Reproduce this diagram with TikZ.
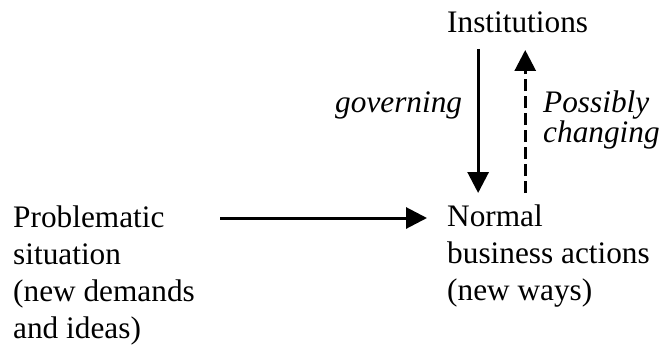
\documentclass[tikz,border=0pt]{standalone}
\usepackage{fontspec}
\setmainfont{Liberation Serif}
\usetikzlibrary{arrows.meta,calc}

\tikzset{
  body/.style={inner sep=0pt, anchor=base west, align=left,
    font=\fontsize{31.3}{37}\selectfont},
  lbl/.style={inner sep=0pt, anchor=base west, align=left,
    font=\fontsize{31.3}{30}\selectfont\itshape},
  arr/.style={line width=3pt, -{Triangle[length=21pt,width=21pt]}},
  darr/.style={arr, dash pattern=on 12pt off 5pt},
}

\begin{document}
\begin{tikzpicture}[x=1pt,y=1pt]
  \useasboundingbox (0,0) rectangle (661,-345);

  % text blocks (base = baseline of the last line)
  \node[body] (inst) at (447,-33) {Institutions};
  \node[body] (prob) at (13,-338) {Problematic\\situation\\(new demands\\and ideas)};
  \node[body] (norm) at (447,-300) {Normal\\business actions\\(new ways)};

  % arrow labels
  \node[lbl] (gov) at (335,-112) {governing};
  \node[lbl] (chg) at (543,-142) {Possibly\\changing};

  % influence of institutions on everyday action, and back
  \draw[arr] ($(inst.base)+(-39.5,-16)$) -- ($(inst.base |- norm.base)+(-39.5,107)$);
  \draw[darr] ($(inst.base |- norm.base)+(7.6,107)$) -- ($(inst.base)+(7.6,-17)$);

  % problematic situation feeds the normal actions
  \draw[arr] ($(prob.east |- norm.base)+(25,82)$) -- ($(norm.base west)+(-20,82)$);
\end{tikzpicture}
\end{document}
